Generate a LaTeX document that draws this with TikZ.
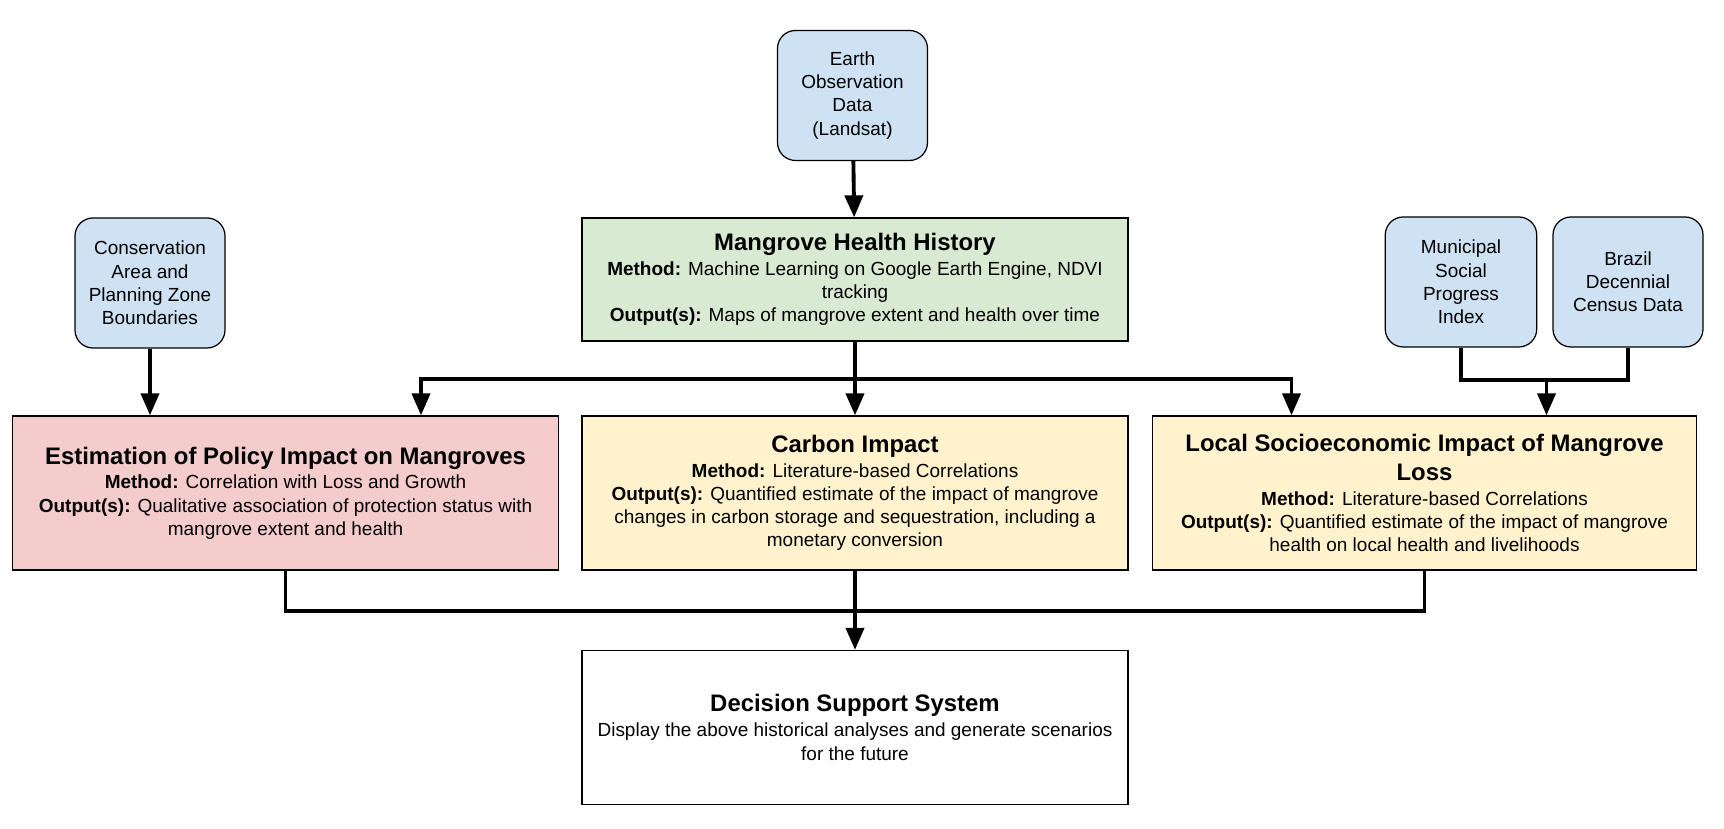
\documentclass[tikz,border=0pt]{standalone}
\usepackage{fontspec}
\setmainfont{Liberation Sans}
\usetikzlibrary{arrows.meta}

\newcommand{\boxtitle}[1]{{\fontsize{13.6}{16}\selectfont\bfseries #1}}

\begin{document}
\begin{tikzpicture}[
    every node/.style={font=\fontsize{10.8}{13.2}\selectfont, align=center, inner sep=2pt},
    source/.style={draw=black, line width=0.7pt, fill=srcblue, rounded corners=0.36cm,
                   minimum width=3.0cm, minimum height=2.6cm},
    stage/.style={draw=black, line width=0.7pt, minimum width=10.92cm, minimum height=3.08cm},
    link/.style={line width=2.2pt},
    arr/.style={link, -{Triangle[length=0.44cm, width=0.36cm]}},
    arrs/.style={link, {Triangle[length=0.44cm, width=0.36cm]}-{Triangle[length=0.44cm, width=0.36cm]}}
]
\definecolor{srcblue}{HTML}{CFE2F3}
\definecolor{histgreen}{HTML}{D9EAD3}
\definecolor{policyred}{HTML}{F4CCCC}
\definecolor{impactyellow}{HTML}{FFF2CC}

\useasboundingbox (0,0) rectangle (34.48,16.58);

% -------- Data sources -----------
\node [source] (eo)     at (17.05, 14.67) {Earth\\Observation\\Data\\(Landsat)};
\node [source] (cons)   at ( 3.00, 10.92) {Conservation\\Area and\\Planning Zone\\Boundaries};
\node [source, minimum width=3.03cm] (muni) at (29.22, 10.94) {Municipal\\Social\\Progress\\Index};
\node [source] (brazil) at (32.56, 10.94) {Brazil\\Decennial\\Census Data};

% -------- History -----------
\node [stage, fill=histgreen, minimum height=2.46cm] (mhh) at (17.10, 10.99)
    {\boxtitle{Mangrove Health History}\\[1pt]
     \textbf{Method:} Machine Learning on Google Earth Engine, NDVI\\
     tracking\\
     \textbf{Output(s):} Maps of mangrove extent and health over time};

% -------- Impact row -----------
\node [stage, fill=policyred] (policy) at (5.71, 6.72)
    {\boxtitle{Estimation of Policy Impact on Mangroves}\\[1pt]
     \textbf{Method:} Correlation with Loss and Growth\\
     \textbf{Output(s):} Qualitative association of protection status with\\
     mangrove extent and health};
\node [stage, fill=impactyellow] (carbon) at (17.10, 6.72)
    {\boxtitle{Carbon Impact}\\[1pt]
     \textbf{Method:} Literature-based Correlations\\
     \textbf{Output(s):} Quantified estimate of the impact of mangrove\\
     changes in carbon storage and sequestration, including a\\
     monetary conversion};
\node [stage, fill=impactyellow, minimum width=10.87cm] (local) at (28.49, 6.72)
    {\boxtitle{Local Socioeconomic Impact of Mangrove}\\[3pt]
     \boxtitle{Loss}\\[1pt]
     \textbf{Method:} Literature-based Correlations\\
     \textbf{Output(s):} Quantified estimate of the impact of mangrove\\
     health on local health and livelihoods};

% -------- Decision -----------
\node [stage, fill=white] (dss) at (17.10, 2.03)
    {\boxtitle{Decision Support System}\\[1pt]
     Display the above historical analyses and generate scenarios\\
     for the future};

% bus points
\coordinate (busL) at ( 8.42, 9.00);
\coordinate (busR) at (25.83, 9.00);
\coordinate (join) at (30.93, 8.98);
\coordinate (botbus) at (17.10, 4.36);

\draw [arr]  (eo) -- (mhh);
\draw [arr]  (cons) -- (cons |- policy.north);
\draw [arr]  (mhh) -- (carbon);
\draw [arrs, line join=miter] (busL |- policy.north) -- (busL) -- (busR) -- (busR |- local.north);

% socioeconomic inputs
\draw [link, line join=miter] (muni) -- (muni |- join) -- (brazil |- join) -- (brazil);
\draw [arr]  (join) -- (join |- local.north);

% Second row
\draw [link, line join=miter] (policy) -- (policy |- botbus) -- (local |- botbus) -- (local);
\draw [arr]  (carbon) -- (dss);

\end{tikzpicture}
\end{document}
